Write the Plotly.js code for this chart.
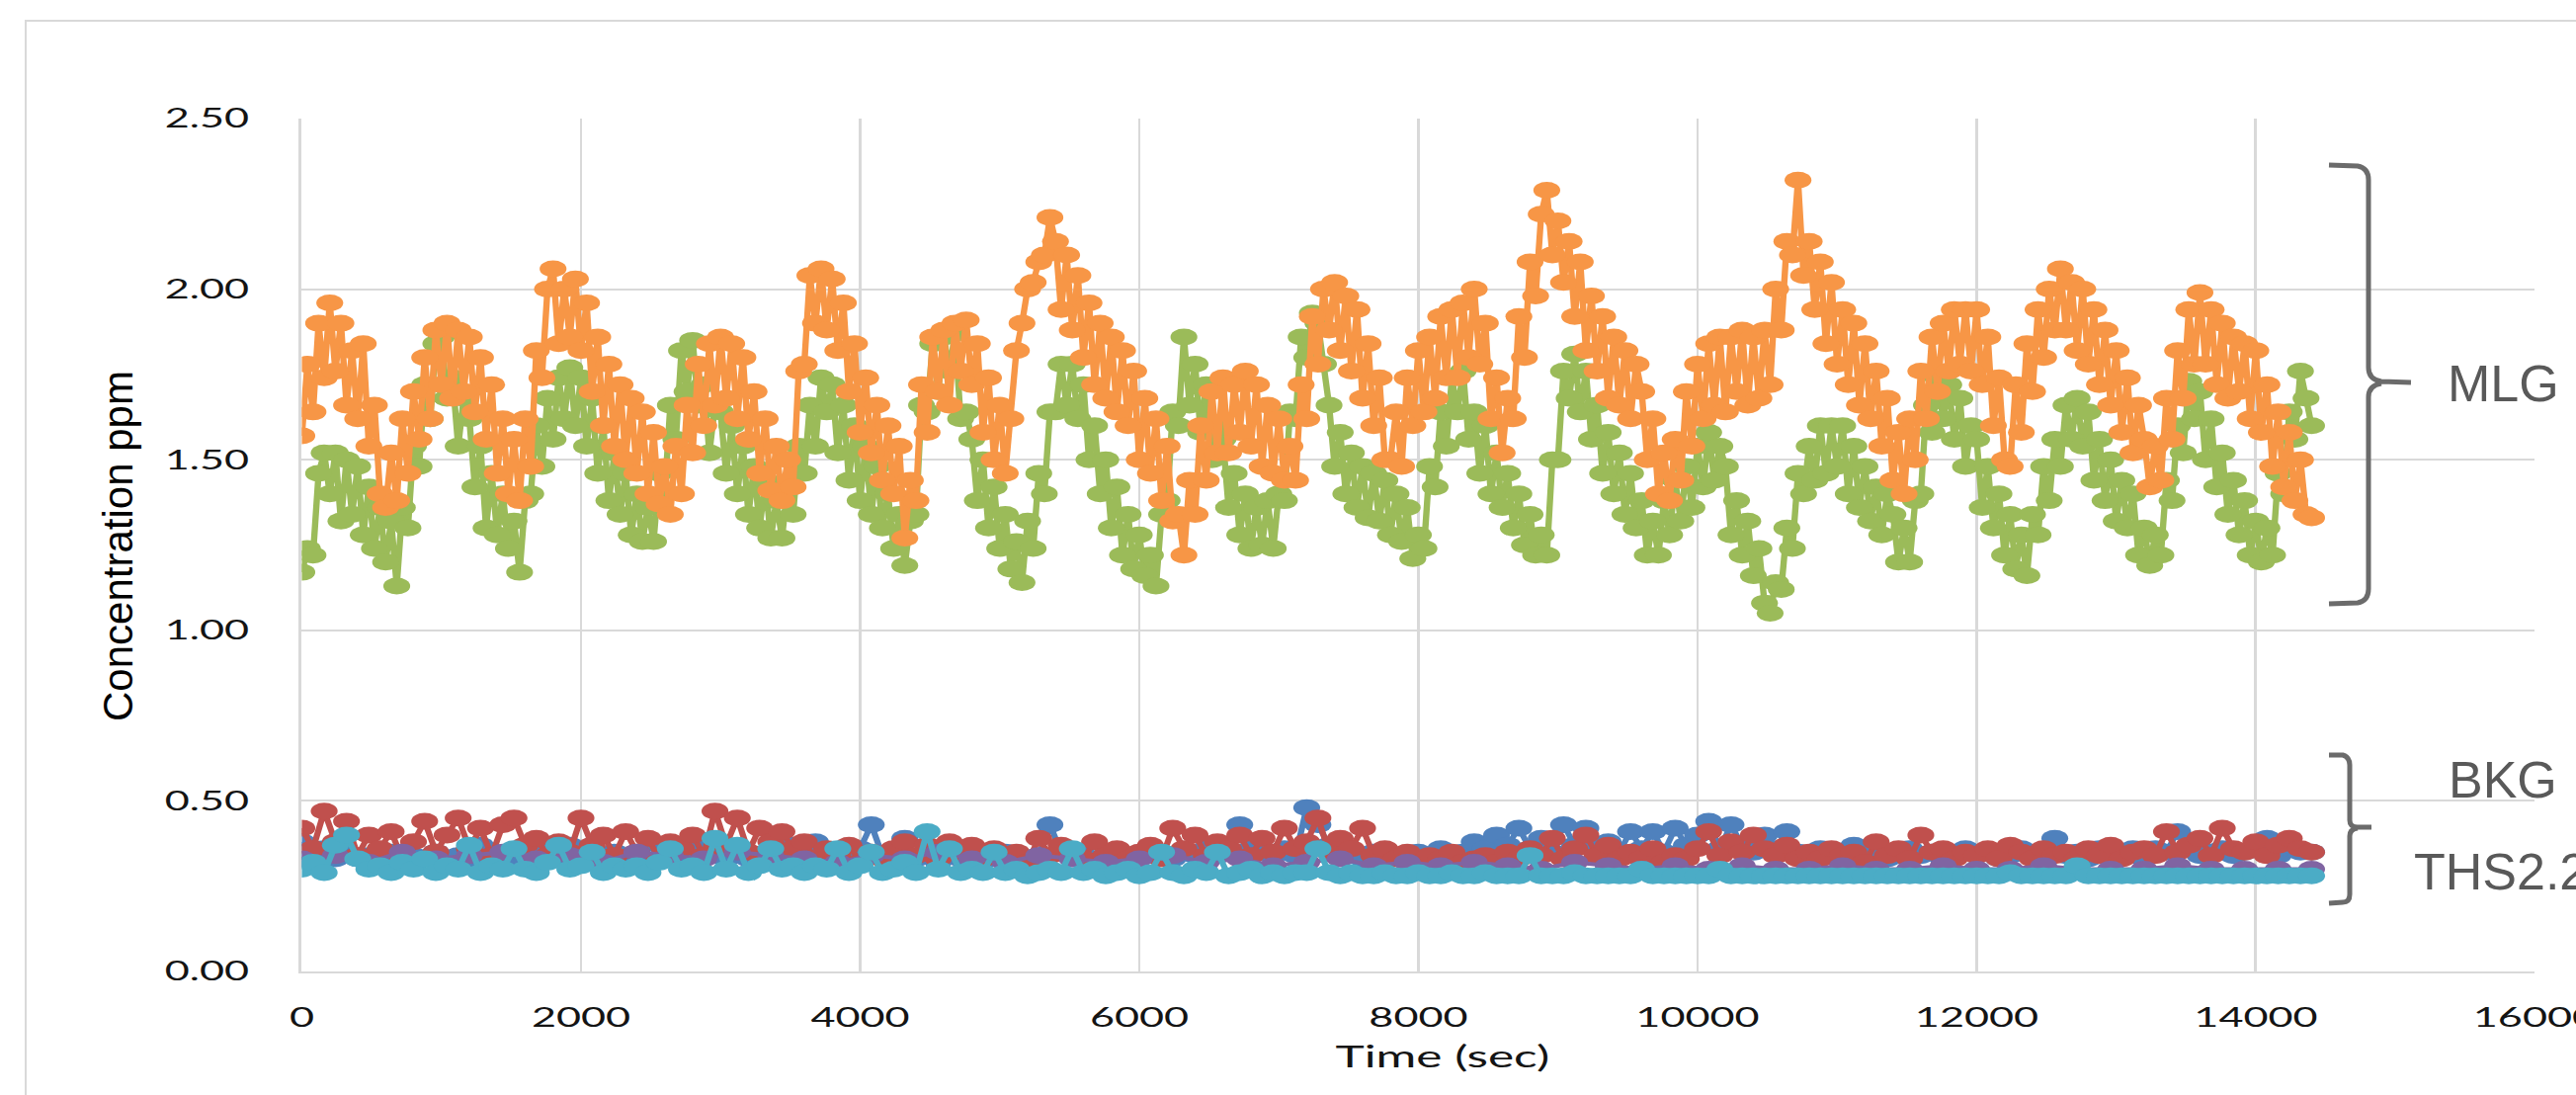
<!DOCTYPE html>
<html>
<head>
<meta charset="utf-8">
<script src="https://cdn.plot.ly/plotly-3.0.1.min.js"></script>
<style>
  html, body { margin:0; padding:0; background:#ffffff; overflow:hidden; width:2607px; height:1108px; }
  #chart { position:absolute; left:0; top:0; width:1630px; height:1108px; transform:scaleX(1.59939); transform-origin:0 0; }
  #overlay { position:absolute; left:0; top:0; width:2607px; height:1108px; pointer-events:none; }
</style>
</head>
<body>
<div id="chart"></div>
<div id="overlay"></div>
<script>
// ---------- data ----------
// MLG series sampled every 40 s, background series every 80 s (purple every 240 s)
const mlgStepSec = 40;
const bkgStepSec = 80;
const purpleStepSec = 240;

const orangeValues = [
  1.57,1.78,1.64,1.90,1.74,1.96,1.76,1.90,1.66,1.82,1.62,1.84,1.54,1.66,1.40,
  1.36,1.52,1.38,1.62,1.46,1.70,1.56,1.80,1.62,1.88,1.72,1.90,1.68,1.88,1.70,
  1.86,1.64,1.80,1.56,1.72,1.46,1.62,1.40,1.56,1.38,1.62,1.48,1.82,1.74,2.00,
  2.06,1.84,2.00,1.86,2.03,1.82,1.96,1.70,1.86,1.60,1.78,1.54,1.72,1.50,1.68,
  1.46,1.64,1.40,1.58,1.37,1.48,1.34,1.54,1.40,1.66,1.52,1.78,1.60,1.84,1.66,
  1.86,1.68,1.84,1.62,1.80,1.56,1.70,1.46,1.62,1.41,1.54,1.38,1.50,1.42,1.76,
  1.78,2.04,1.90,2.06,1.88,2.03,1.82,1.96,1.70,1.84,1.58,1.74,1.52,1.66,1.44,
  1.60,1.40,1.54,1.27,1.44,1.38,1.72,1.58,1.86,1.70,1.88,1.66,1.90,1.76,1.91,
  1.72,1.84,1.58,1.74,1.50,1.66,1.46,1.62,1.82,1.90,2.00,2.02,2.08,2.10,2.21,
  2.14,1.94,2.10,1.88,2.04,1.80,1.96,1.72,1.90,1.68,1.86,1.64,1.82,1.60,1.76,
  1.50,1.68,1.46,1.62,1.38,1.54,1.32,1.34,1.22,1.44,1.34,1.60,1.44,1.70,1.52,
  1.74,1.52,1.72,1.58,1.76,1.54,1.72,1.48,1.66,1.46,1.62,1.44,1.54,1.44,1.72,
  1.62,1.92,1.78,2.00,1.88,2.02,1.82,1.98,1.76,1.94,1.68,1.84,1.60,1.74,1.50,
  1.50,1.64,1.48,1.74,1.60,1.82,1.64,1.86,1.68,1.92,1.74,1.94,1.74,1.96,1.80,
  2.00,1.78,1.90,1.62,1.74,1.52,1.68,1.62,1.92,1.80,2.08,1.98,2.22,2.29,2.10,
  2.20,2.02,2.14,1.92,2.08,1.82,1.98,1.76,1.92,1.68,1.86,1.66,1.82,1.62,1.78,
  1.70,1.50,1.62,1.40,1.52,1.38,1.56,1.44,1.70,1.54,1.78,1.62,1.84,1.66,1.86,
  1.64,1.86,1.70,1.88,1.66,1.86,1.68,1.88,1.72,2.00,1.88,2.14,2.10,2.32,2.04,
  2.14,1.94,2.08,1.84,2.02,1.78,1.94,1.72,1.90,1.66,1.84,1.62,1.76,1.54,1.68,
  1.44,1.58,1.40,1.62,1.50,1.76,1.62,1.86,1.70,1.90,1.76,1.94,1.78,1.94,1.76,
  1.94,1.72,1.86,1.60,1.74,1.50,1.48,1.72,1.58,1.84,1.70,1.94,1.80,2.00,1.88,
  2.06,1.88,2.02,1.82,2.00,1.78,1.94,1.72,1.88,1.66,1.82,1.58,1.74,1.52,1.66,
  1.56,1.42,1.54,1.44,1.68,1.56,1.82,1.68,1.94,1.78,1.99,1.78,1.94,1.72,1.90,
  1.68,1.86,1.70,1.84,1.62,1.82,1.58,1.72,1.48,1.64,1.42,1.58,1.38,1.50,1.34,
  1.33
];

const greenValues = [
  1.17,1.24,1.22,1.46,1.52,1.40,1.52,1.32,1.50,1.34,1.48,1.28,1.42,1.24,1.36,
  1.20,1.32,1.13,1.36,1.30,1.54,1.48,1.72,1.62,1.84,1.86,1.68,1.74,1.54,1.68,
  1.62,1.42,1.54,1.30,1.46,1.28,1.40,1.24,1.32,1.17,1.38,1.40,1.60,1.48,1.68,
  1.56,1.74,1.62,1.77,1.60,1.74,1.54,1.68,1.46,1.60,1.38,1.52,1.34,1.46,1.28,
  1.40,1.26,1.36,1.26,1.46,1.40,1.66,1.56,1.82,1.70,1.85,1.66,1.72,1.52,1.66,
  1.64,1.46,1.60,1.40,1.54,1.34,1.48,1.30,1.44,1.27,1.38,1.27,1.42,1.34,1.54,
  1.46,1.66,1.54,1.74,1.64,1.72,1.52,1.66,1.44,1.60,1.38,1.54,1.34,1.48,1.30,
  1.40,1.24,1.34,1.19,1.32,1.34,1.66,1.64,1.84,1.70,1.86,1.76,1.87,1.62,1.64,
  1.56,1.38,1.50,1.30,1.42,1.24,1.34,1.18,1.26,1.14,1.32,1.24,1.46,1.40,1.64,
  1.64,1.78,1.66,1.78,1.62,1.72,1.50,1.60,1.40,1.50,1.30,1.42,1.22,1.34,1.18,
  1.28,1.16,1.22,1.13,1.34,1.38,1.64,1.60,1.86,1.66,1.78,1.58,1.72,1.50,1.60,
  1.56,1.36,1.46,1.28,1.40,1.24,1.36,1.25,1.38,1.24,1.40,1.38,1.64,1.62,1.86,
  1.80,1.93,1.90,1.78,1.66,1.48,1.58,1.40,1.52,1.36,1.48,1.33,1.46,1.32,1.44,
  1.28,1.40,1.26,1.36,1.21,1.28,1.24,1.48,1.42,1.64,1.54,1.74,1.64,1.76,1.56,
  1.64,1.46,1.60,1.40,1.52,1.36,1.46,1.30,1.40,1.25,1.34,1.22,1.28,1.22,1.50,
  1.50,1.76,1.68,1.81,1.64,1.76,1.56,1.66,1.46,1.58,1.40,1.52,1.34,1.46,1.30,
  1.38,1.22,1.32,1.22,1.38,1.28,1.44,1.32,1.48,1.36,1.54,1.42,1.58,1.44,1.54,
  1.48,1.28,1.38,1.22,1.32,1.16,1.24,1.08,1.05,1.14,1.12,1.30,1.24,1.46,1.40,
  1.54,1.44,1.60,1.46,1.60,1.48,1.60,1.40,1.54,1.36,1.48,1.32,1.42,1.28,1.40,
  1.34,1.20,1.30,1.20,1.38,1.40,1.66,1.58,1.74,1.62,1.72,1.56,1.68,1.48,1.60,
  1.56,1.36,1.48,1.30,1.40,1.22,1.34,1.18,1.28,1.16,1.34,1.28,1.48,1.38,1.56,
  1.48,1.66,1.56,1.68,1.54,1.64,1.44,1.56,1.38,1.50,1.32,1.44,1.30,1.40,1.22,
  1.30,1.19,1.28,1.22,1.44,1.38,1.60,1.52,1.73,1.62,1.70,1.50,1.62,1.42,1.52,
  1.34,1.44,1.28,1.38,1.22,1.32,1.20,1.30,1.22,1.46,1.40,1.64,1.56,1.76,1.68,
  1.60
];

const blueValues = [
  0.38,0.34,0.36,0.33,0.35,0.33,0.34,0.32,0.35,0.33,0.34,0.33,0.35,0.32,0.34,
  0.33,0.37,0.33,0.34,0.32,0.34,0.36,0.33,0.34,0.37,0.33,0.34,0.32,0.35,0.33,
  0.34,0.32,0.37,0.34,0.33,0.35,0.37,0.34,0.33,0.35,0.33,0.34,0.32,0.35,0.37,
  0.34,0.38,0.33,0.35,0.34,0.36,0.43,0.34,0.35,0.39,0.33,0.34,0.32,0.34,0.33,
  0.35,0.34,0.33,0.35,0.34,0.33,0.34,0.43,0.35,0.33,0.34,0.33,0.34,0.35,0.33,
  0.34,0.36,0.34,0.33,0.35,0.34,0.36,0.34,0.35,0.43,0.36,0.35,0.34,0.36,0.34,
  0.48,0.43,0.37,0.35,0.34,0.33,0.35,0.33,0.34,0.33,0.35,0.34,0.36,0.34,0.35,
  0.38,0.36,0.40,0.37,0.42,0.36,0.39,0.35,0.43,0.37,0.42,0.36,0.38,0.35,0.41,
  0.36,0.41,0.35,0.42,0.37,0.40,0.44,0.36,0.43,0.37,0.35,0.40,0.36,0.41,0.35,
  0.34,0.36,0.34,0.35,0.37,0.34,0.35,0.33,0.34,0.36,0.34,0.35,0.33,0.34,0.36,
  0.34,0.35,0.33,0.34,0.36,0.34,0.35,0.39,0.34,0.35,0.33,0.36,0.35,0.34,0.36,
  0.33,0.36,0.35,0.41,0.36,0.34,0.35,0.36,0.34,0.35,0.36,0.39,0.34,0.36,0.35,
  0.35
];

const redValues = [
  0.42,0.36,0.47,0.38,0.44,0.34,0.40,0.36,0.41,0.33,0.38,0.44,0.35,0.40,0.45,
  0.36,0.42,0.34,0.43,0.45,0.37,0.39,0.34,0.38,0.35,0.45,0.37,0.40,0.34,0.41,
  0.35,0.39,0.33,0.38,0.36,0.40,0.34,0.47,0.37,0.45,0.35,0.42,0.38,0.41,0.36,
  0.38,0.33,0.36,0.34,0.37,0.32,0.35,0.33,0.36,0.38,0.34,0.37,0.33,0.38,0.35,
  0.37,0.33,0.36,0.34,0.35,0.32,0.39,0.34,0.37,0.35,0.33,0.38,0.34,0.36,0.33,
  0.35,0.37,0.33,0.42,0.36,0.40,0.34,0.38,0.36,0.40,0.34,0.39,0.35,0.42,0.36,
  0.38,0.45,0.35,0.39,0.36,0.42,0.34,0.36,0.33,0.35,0.32,0.34,0.33,0.35,0.32,
  0.33,0.34,0.32,0.35,0.33,0.36,0.34,0.39,0.33,0.36,0.40,0.34,0.37,0.33,0.35,
  0.33,0.36,0.32,0.34,0.33,0.36,0.41,0.34,0.38,0.35,0.40,0.36,0.34,0.37,0.33,
  0.35,0.33,0.36,0.34,0.35,0.32,0.38,0.34,0.36,0.33,0.40,0.35,0.36,0.33,0.35,
  0.34,0.36,0.33,0.37,0.35,0.33,0.36,0.34,0.35,0.33,0.36,0.34,0.37,0.33,0.35,
  0.36,0.34,0.41,0.35,0.37,0.39,0.34,0.42,0.36,0.35,0.38,0.34,0.37,0.39,0.36,
  0.35
];

const purpleValues = [
  0.33,0.34,0.32,0.35,0.33,0.34,0.35,0.33,0.34,0.32,
  0.35,0.34,0.33,0.35,0.34,0.33,0.32,0.34,0.33,0.35,
  0.33,0.32,0.34,0.33,0.32,0.33,0.34,0.32,0.33,0.31,
  0.32,0.33,0.31,0.32,0.31,0.32,0.31,0.30,0.32,0.31,
  0.30,0.31,0.30,0.31,0.30,0.30,0.31,0.30,0.30,0.31,
  0.30,0.30,0.31,0.30,0.30,0.30,0.31,0.30,0.30,0.30,
  0.30
];

const cyanValues = [
  0.30,0.32,0.29,0.37,0.40,0.33,0.30,0.31,0.29,0.32,0.30,0.33,0.29,0.31,0.30,
  0.37,0.29,0.31,0.30,0.36,0.30,0.29,0.32,0.37,0.30,0.31,0.35,0.29,0.31,0.30,
  0.31,0.29,0.32,0.36,0.30,0.31,0.29,0.39,0.30,0.37,0.29,0.31,0.36,0.30,0.31,
  0.29,0.31,0.30,0.36,0.29,0.31,0.35,0.29,0.30,0.32,0.29,0.41,0.30,0.36,0.29,
  0.30,0.29,0.35,0.29,0.30,0.28,0.29,0.30,0.29,0.36,0.29,0.30,0.28,0.29,0.30,
  0.28,0.29,0.35,0.29,0.28,0.30,0.29,0.35,0.28,0.29,0.30,0.28,0.29,0.28,0.29,
  0.29,0.36,0.29,0.28,0.29,0.28,0.28,0.29,0.28,0.28,0.29,0.28,0.28,0.29,0.28,
  0.28,0.29,0.28,0.28,0.28,0.34,0.28,0.28,0.28,0.29,0.28,0.28,0.28,0.28,0.28,
  0.30,0.28,0.28,0.28,0.28,0.28,0.28,0.30,0.28,0.28,0.28,0.28,0.28,0.28,0.28,
  0.28,0.28,0.28,0.28,0.28,0.28,0.28,0.28,0.28,0.28,0.28,0.28,0.28,0.28,0.28,
  0.28,0.28,0.28,0.29,0.28,0.28,0.28,0.28,0.28,0.31,0.28,0.28,0.28,0.28,0.28,
  0.28,0.28,0.28,0.28,0.28,0.28,0.28,0.28,0.28,0.28,0.28,0.28,0.28,0.28,0.28,
  0.28
];

const xTickValues = [0, 2000, 4000, 6000, 8000, 10000, 12000, 14000, 16000];
const yTickValues = [0, 0.5, 1.0, 1.5, 2.0, 2.5];
const groupLabels = ['MLG', 'BKG', 'THS2.2'];
const xTitle = 'Time (sec)';
const yTitle = 'Concentration ppm';

// ---------- build ----------
function timesFor(values, step) { return values.map((_, i) => i * step); }

function series(name, values, step, color) {
  return {
    type: 'scatter', mode: 'lines+markers', name: name,
    x: timesFor(values, step), y: values,
    line: { color: color, width: 4 },
    marker: { color: color, size: 17 },
    showlegend: false, hoverinfo: 'skip'
  };
}

const traces = [
  series('Series A', blueValues, bkgStepSec, '#4f81bd'),
  series('Series B', redValues, bkgStepSec, '#c0504d'),
  series('Series C', greenValues, mlgStepSec, '#9bbb59'),
  series('Series D', purpleValues, purpleStepSec, '#8064a2'),
  series('Series E', cyanValues, bkgStepSec, '#4bacc6'),
  series('Series F', orangeValues, mlgStepSec, '#f79646')
];

const tickFont = { family: 'Lato, "Open Sans", sans-serif', size: 27, color: '#141414' };

const layout = {
  width: 1630, height: 1108,
  margin: { l: 191, r: 26, t: 120, b: 125, pad: 0 },
  paper_bgcolor: '#ffffff', plot_bgcolor: '#ffffff',
  xaxis: {
    range: [0, 16000], tickmode: 'array', tickvals: xTickValues, tickformat: 'd',
    showgrid: true, gridcolor: '#d9d9d9', gridwidth: 1.8,
    zeroline: false, showline: true, linecolor: '#d9d9d9', linewidth: 2,
    ticks: '', ticklabelstandoff: 22, ticklabeloverflow: 'allow',
    tickfont: tickFont, automargin: false
  },
  yaxis: {
    range: [0, 2.5], tickmode: 'array', tickvals: yTickValues, tickformat: '.2f',
    showgrid: true, gridcolor: '#d9d9d9', gridwidth: 2,
    zeroline: false, showline: true, linecolor: '#d9d9d9', linewidth: 2,
    ticks: '', ticklabelstandoff: 26, tickfont: tickFont, automargin: false
  },
  annotations: [{
    text: xTitle, xref: 'paper', yref: 'paper', x: 0.511, y: -0.099,
    xanchor: 'center', yanchor: 'middle', showarrow: false,
    font: { family: 'Lato, "Open Sans", sans-serif', size: 31, color: '#141414' }
  }]
};

Plotly.newPlot('chart', traces, layout, { staticPlot: true, displayModeBar: false });

// ---------- overlay (unstretched labels and braces) ----------
const braceColor = '#6b6b6b';
const labelFont = { family: '"Liberation Sans", Arial, sans-serif', size: 52, color: '#595959' };
const overlayLayout = {
  width: 2607, height: 1108,
  margin: { l: 0, r: 0, t: 0, b: 0, pad: 0 },
  paper_bgcolor: 'rgba(0,0,0,0)', plot_bgcolor: 'rgba(0,0,0,0)',
  xaxis: { range: [0, 2607], visible: false, fixedrange: true },
  yaxis: { range: [1108, 0], visible: false, fixedrange: true },
  shapes: [
    { type: 'rect', xref: 'x', yref: 'y', x0: 26, y0: 21, x1: 2700, y1: 1200,
      line: { color: '#d9d9d9', width: 2 }, fillcolor: 'rgba(0,0,0,0)', layer: 'above' },
    { type: 'path', xref: 'x', yref: 'y', layer: 'above',
      path: 'M 2357 167 L 2386 168 Q 2397 170 2397 182 L 2397 372 Q 2397 384 2410 386 L 2440 387 ' +
            'M 2410 388 Q 2397 390 2397 402 L 2397 596 Q 2397 608 2386 610 L 2357 611',
      line: { color: braceColor, width: 5 } },
    { type: 'path', xref: 'x', yref: 'y', layer: 'above',
      path: 'M 2357 764 L 2371 764 Q 2378 766 2378 774 L 2378 830 Q 2378 837 2386 837 L 2400 837 ' +
            'M 2386 838 Q 2378 839 2378 846 L 2378 905 Q 2378 913 2371 913 L 2357 914',
      line: { color: braceColor, width: 5 } }
  ],
  annotations: [
    { text: groupLabels[0], x: 2533, y: 388, xref: 'x', yref: 'y', showarrow: false,
      xanchor: 'center', yanchor: 'middle', font: labelFont },
    { text: groupLabels[1], x: 2533, y: 789, xref: 'x', yref: 'y', showarrow: false,
      xanchor: 'center', yanchor: 'middle', font: labelFont },
    { text: groupLabels[2], x: 2441, y: 882, xref: 'x', yref: 'y', showarrow: false,
      xanchor: 'left', yanchor: 'middle', font: labelFont },
    { text: yTitle, x: 119, y: 553, xref: 'x', yref: 'y', showarrow: false, textangle: -90,
      xanchor: 'center', yanchor: 'middle',
      font: { family: '"Liberation Sans", Arial, sans-serif', size: 42, color: '#000000' } }
  ]
};

Plotly.newPlot('overlay', [], overlayLayout, { staticPlot: true, displayModeBar: false });
</script>
</body>
</html>
